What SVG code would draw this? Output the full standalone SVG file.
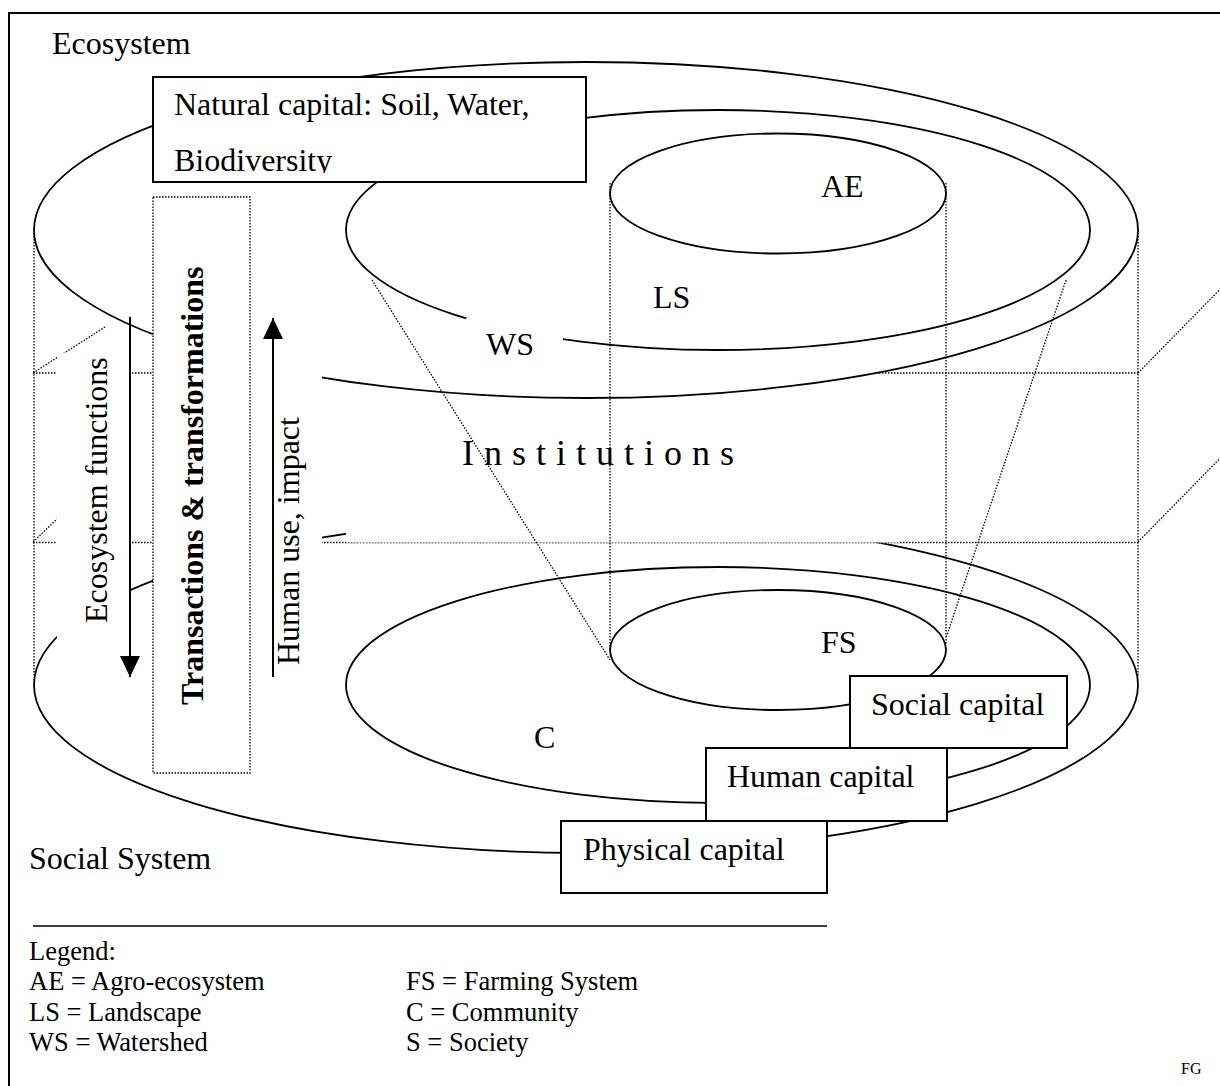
<svg xmlns="http://www.w3.org/2000/svg" width="1220" height="1086" viewBox="0 0 1220 1086">
<style>
  text { font-family: "Liberation Serif", "Times New Roman", serif; fill: #000; }
  .lbl { font-size: 32px; }
  .leg { font-size: 26.5px; }
  .solid { fill: none; stroke: #000; stroke-width: 1.8; }
  .dot { fill: none; stroke: #000; stroke-width: 1.3; stroke-dasharray: 1.5 1.5; }
  .light { fill: none; stroke: #b0b0b0; stroke-width: 1; stroke-dasharray: 1.2 2.2; }
  .wbox { fill: #fff; stroke: none; }
  .box { fill: #fff; stroke: #000; stroke-width: 2; }
</style>
<defs>
  <marker id="ah" viewBox="0 0 21 20" refX="21" refY="10" markerWidth="21" markerHeight="20" markerUnits="userSpaceOnUse" orient="auto">
    <path d="M0,0 L21,10 L0,20 z" fill="#000"/>
  </marker>
  <clipPath id="natclip"><rect x="153" y="77" width="433" height="96"/></clipPath>
</defs>
<rect x="0" y="0" width="1220" height="1086" fill="#fff"/>
<rect id="frame" x="9" y="13" width="1240" height="1100" fill="none" stroke="#000" stroke-width="2"/>

<g id="guides">
  <line class="dot" x1="33" y1="373" x2="1138" y2="373"/>
  <line class="dot" x1="33" y1="542.5" x2="1138" y2="542.5"/>
  <line class="dot" x1="34" y1="233" x2="34" y2="675"/>
  <line class="dot" x1="1138" y1="236" x2="1138" y2="676"/>
  <line class="dot" x1="33" y1="373" x2="105" y2="327"/>
  <line class="dot" x1="33" y1="542" x2="80" y2="497"/>
  <line class="dot" x1="1138" y1="373" x2="1240" y2="269"/>
  <line class="dot" x1="1138" y1="542" x2="1240" y2="438"/>
</g>

<g id="ecosystem-S">
  <ellipse cx="586" cy="230" rx="552" ry="168" fill="#fff" stroke="#000" stroke-width="1.8"/>
</g>
<g id="social-S">
  <ellipse class="solid" cx="586" cy="685" rx="552" ry="168"/>
</g>
<g id="institutions-box">
  <rect class="wbox" x="346" y="400" width="554" height="142.5"/>
  <line class="light" x1="346" y1="543" x2="900" y2="543"/>
</g>
<g id="WS">
  <ellipse class="solid" cx="718" cy="230" rx="372" ry="120"/>
</g>
<g id="AE">
  <ellipse class="solid" cx="778" cy="193.5" rx="168" ry="60"/>
</g>
<g id="C">
  <ellipse class="solid" cx="718" cy="685" rx="372" ry="118"/>
</g>
<g id="FS">
  <ellipse class="solid" cx="778" cy="650" rx="168" ry="60"/>
</g>

<g id="connectors">
  <line class="dot" x1="610" y1="183" x2="610" y2="650"/>
  <line class="dot" x1="946" y1="183" x2="946" y2="645"/>
  <line class="dot" x1="372" y1="280" x2="610" y2="660"/>
  <line class="dot" x1="1066" y1="280" x2="946" y2="638"/>
</g>

<g id="ecosystem-functions">
  <rect class="wbox" x="57" y="353" width="73" height="287"/>
</g>
<g id="human-use">
  <rect class="wbox" x="250" y="355" width="72" height="205"/>
</g>
<g id="transactions">
  <rect x="153" y="197" width="97" height="576" fill="#fff" stroke="#000" stroke-width="1.3" stroke-dasharray="1.5 1.5"/>
  <text class="lbl" font-weight="bold" transform="translate(203,705) rotate(-90)">Transactions &amp; transformations</text>
</g>
<g id="ws-label">
  <rect class="wbox" x="466" y="318" width="97" height="47"/>
  <text class="lbl" x="486" y="355">WS</text>
</g>

<g id="natural-capital">
  <rect class="box" x="153" y="77" width="433" height="105"/>
  <text class="lbl" x="174" y="115">Natural capital: Soil, Water,</text>
  <text class="lbl" x="174" y="171" clip-path="url(#natclip)">Biodiversity</text>
</g>

<g id="social-capital">
  <rect class="box" x="850" y="676" width="217" height="72"/>
  <text class="lbl" x="871" y="715">Social capital</text>
</g>
<g id="human-capital">
  <rect class="box" x="706" y="748" width="241" height="73"/>
  <text class="lbl" x="727" y="787">Human capital</text>
</g>
<g id="physical-capital">
  <rect class="box" x="561" y="821" width="266" height="72"/>
  <text class="lbl" x="583" y="860">Physical capital</text>
</g>

<g id="arrows">
  <line x1="130" y1="317" x2="130" y2="677" stroke="#000" stroke-width="2" marker-end="url(#ah)"/>
  <line x1="273" y1="677" x2="273" y2="318" stroke="#000" stroke-width="2" marker-end="url(#ah)"/>
</g>

<g id="labels">
  <text class="lbl" x="52" y="54">Ecosystem</text>
  <text class="lbl" x="821" y="197">AE</text>
  <text class="lbl" x="653" y="308">LS</text>
  <text x="462" y="465" font-size="36" letter-spacing="10">Institutions</text>
  <text class="lbl" x="821" y="653">FS</text>
  <text class="lbl" x="534" y="748">C</text>
  <text class="lbl" transform="translate(107,623) rotate(-90)">Ecosystem functions</text>
  <text class="lbl" transform="translate(299,665) rotate(-90)">Human use, impact</text>
  <text class="lbl" x="29" y="869">Social System</text>
</g>

<g id="legend">
  <line x1="33" y1="926" x2="827" y2="926" stroke="#000" stroke-width="1.5"/>
  <text class="leg" x="29" y="960">Legend:</text>
  <text class="leg" x="29" y="990">AE = Agro-ecosystem</text>
  <text class="leg" x="29" y="1020.5">LS = Landscape</text>
  <text class="leg" x="29" y="1051">WS = Watershed</text>
  <text class="leg" x="406" y="990">FS = Farming System</text>
  <text class="leg" x="406" y="1020.5">C = Community</text>
  <text class="leg" x="406" y="1051">S = Society</text>
  <text x="1181" y="1074" font-size="16">FG</text>
</g>
</svg>
